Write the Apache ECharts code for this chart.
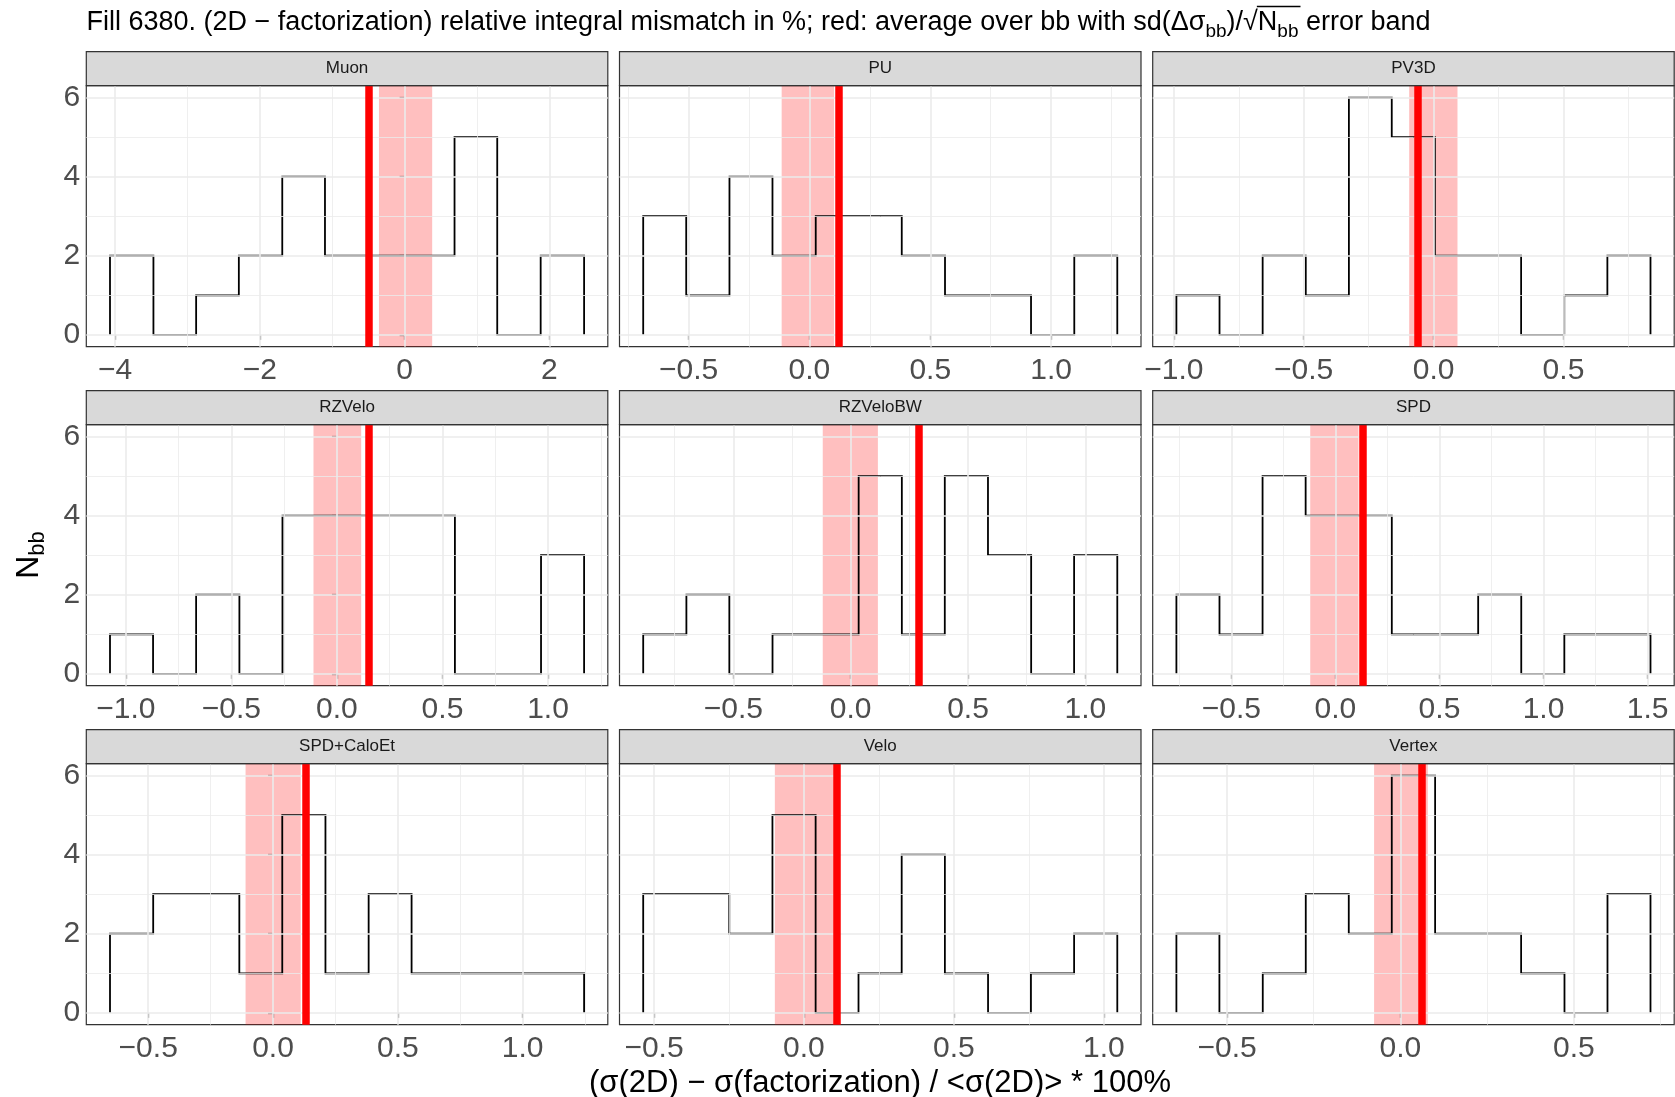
<!DOCTYPE html>
<html><head><meta charset="utf-8">
<script src="https://cdn.jsdelivr.net/npm/echarts@6/dist/echarts.min.js"></script>
<style>html,body{margin:0;padding:0;background:#fff}#c{width:1675px;height:1097px}</style>
</head><body><div id="c"></div>
<script>
// ---------------- data ----------------
const facets = ['Muon','PU','PV3D','RZVelo','RZVeloBW','SPD','SPD+CaloEt','Velo','Vertex'];

const edges_Muon = [-4.07,-3.47,-2.88,-2.29,-1.69,-1.10,-0.50,0.09,0.69,1.28,1.88,2.48];
const counts_Muon = [2,0,1,2,4,2,2,2,5,0,2];
const edges_PU = [-0.688,-0.510,-0.331,-0.153,0.026,0.204,0.382,0.561,0.739,0.917,1.096,1.274];
const counts_PU = [3,1,4,2,3,3,2,1,1,0,2];
const edges_PV3D = [-0.990,-0.824,-0.658,-0.492,-0.326,-0.161,0.005,0.171,0.337,0.503,0.669,0.835];
const counts_PV3D = [1,0,2,1,6,5,2,2,0,1,2];
const edges_RZVelo = [-1.075,-0.871,-0.667,-0.462,-0.258,-0.054,0.150,0.354,0.559,0.763,0.967,1.171];
const counts_RZVelo = [1,0,2,0,4,4,4,4,0,0,3];
const edges_RZVeloBW = [-0.884,-0.700,-0.517,-0.333,-0.150,0.034,0.218,0.401,0.585,0.769,0.952,1.136];
const counts_RZVeloBW = [1,2,0,1,1,5,1,5,3,0,3];
const edges_SPD = [-0.764,-0.557,-0.350,-0.143,0.064,0.271,0.479,0.686,0.893,1.100,1.307,1.514];
const counts_SPD = [2,1,5,4,4,1,1,2,0,1,1];
const edges_SPDCaloEt = [-0.653,-0.480,-0.308,-0.135,0.037,0.210,0.383,0.555,0.728,0.901,1.073,1.246];
const counts_SPDCaloEt = [2,3,3,1,5,1,3,1,1,1,1];
const edges_Velo = [-0.536,-0.392,-0.249,-0.105,0.039,0.182,0.326,0.470,0.614,0.757,0.901,1.045];
const counts_Velo = [3,3,2,5,0,1,4,1,0,1,2];
const edges_Vertex = [-0.646,-0.522,-0.397,-0.273,-0.149,-0.025,0.100,0.224,0.348,0.473,0.597,0.721];
const counts_Vertex = [2,0,1,3,2,6,2,2,1,0,3];

const meanValues = [-0.50, 0.118, -0.056, 0.146, 0.293, 0.131, 0.131, 0.113, 0.055];
const bandLow  = [-0.354, -0.115, -0.094, -0.111, -0.119, -0.121, -0.110, -0.097, -0.076];
const bandHigh = [ 0.381,  0.102,  0.092,  0.115,  0.116,  0.111,  0.111,  0.100,  0.079];

const xTicks_Muon = [-4,-2,0,2];
const xTicks_PU = [-0.5,0,0.5,1.0];
const xTicks_PV3D = [-1.0,-0.5,0,0.5];
const xTicks_RZVelo = [-1.0,-0.5,0,0.5,1.0];
const xTicks_RZVeloBW = [-0.5,0,0.5,1.0];
const xTicks_SPD = [-0.5,0,0.5,1.0,1.5];
const xTicks_SPDCaloEt = [-0.5,0,0.5,1.0];
const xTicks_Velo = [-0.5,0,0.5,1.0];
const xTicks_Vertex = [-0.5,0,0.5];
const yTicks = [0,2,4,6];

const titleMain1 = 'Fill 6380. (2D \u2212 factorization) relative integral mismatch in %; red: average over bb with sd(\u0394\u03c3';
const titleSub = 'bb';
const titleMain2 = ')/\u221a';
const titleN = 'N';
const titleMain3 = ' error band';
const xTitle = '(\u03c3(2D) \u2212 \u03c3(factorization) / <\u03c3(2D)> * 100%';

// ---------------- build ----------------
const allEdges = [edges_Muon,edges_PU,edges_PV3D,edges_RZVelo,edges_RZVeloBW,edges_SPD,edges_SPDCaloEt,edges_Velo,edges_Vertex];
const allCounts = [counts_Muon,counts_PU,counts_PV3D,counts_RZVelo,counts_RZVeloBW,counts_SPD,counts_SPDCaloEt,counts_Velo,counts_Vertex];
const allTicks = [xTicks_Muon,xTicks_PU,xTicks_PV3D,xTicks_RZVelo,xTicks_RZVeloBW,xTicks_SPD,xTicks_SPDCaloEt,xTicks_Velo,xTicks_Vertex];

const FONT = '"Liberation Sans", Arial, Helvetica, sans-serif';
const L0 = 86.3, PW = 521.5, GX = 11.7, T0 = 85.7, PH = 261, ROWP = 339, STRIP = 34;
const TICKFS = 30;

const yMaxCount = Math.max(...allCounts.map(c => Math.max(...c)));
const yMin = -0.05 * yMaxCount, yMax = yMaxCount * 1.05;

function fmt(v, dec) {
  let s = dec === 0 ? String(Math.round(v)) : v.toFixed(1);
  if (s.startsWith('-')) s = '\u2212' + s.slice(1);
  return s;
}

const grids = [], xAxes = [], yAxes = [], series = [], graphics = [];
facets.forEach((name, i) => {
  const col = i % 3, row = Math.floor(i / 3);
  const left = L0 + col * (PW + GX), top = T0 + row * ROWP;
  const e = allEdges[i], c = allCounts[i], ticks = allTicks[i];
  const span = e[e.length - 1] - e[0];
  const xmin = e[0] - 0.05 * span, xmax = e[e.length - 1] + 0.05 * span;
  const step = ticks[1] - ticks[0];
  const dec = Number.isInteger(step) ? 0 : 1;
  const minors = [];
  for (let k = -1; k < ticks.length; k++) {
    const m = (k < 0 ? ticks[0] - step / 2 : ticks[k] + step / 2);
    if (m > xmin && m < xmax) minors.push(m);
  }
  const yMinors = [];
  for (let k = 0; k < yTicks.length - 1; k++) yMinors.push((yTicks[k] + yTicks[k + 1]) / 2);

  grids.push({ left: left, top: top, width: PW, height: PH, show: true,
    borderColor: '#333333', borderWidth: 1.2, backgroundColor: '#ffffff', containLabel: false });
  xAxes.push({ gridIndex: i, type: 'value', min: xmin, max: xmax,
    axisLine: { show: false },
    axisTick: { show: true, customValues: ticks, length: 5, lineStyle: { color: '#333333', width: 1.2 } },
    axisLabel: { show: true, customValues: ticks, formatter: v => fmt(v, dec), fontSize: TICKFS,
      color: '#4D4D4D', fontFamily: FONT, margin: 9, hideOverlap: false },
    splitLine: { show: false }, minorSplitLine: { show: false } });
  yAxes.push({ gridIndex: i, type: 'value', min: yMin, max: yMax,
    axisLine: { show: false },
    axisTick: { show: col === 0, customValues: yTicks, length: 5, lineStyle: { color: '#333333', width: 1.2 } },
    axisLabel: { show: col === 0, customValues: yTicks, fontSize: TICKFS, color: '#4D4D4D',
      fontFamily: FONT, margin: 6 },
    splitLine: { show: false } });

  const gl = [];
  ticks.forEach(v => gl.push({ xAxis: v, lineStyle: { width: 1.6 } }));
  minors.forEach(v => gl.push({ xAxis: v, lineStyle: { width: 0.8 } }));
  yTicks.forEach(v => gl.push({ yAxis: v, lineStyle: { width: 1.6 } }));
  yMinors.forEach(v => gl.push({ yAxis: v, lineStyle: { width: 0.8 } }));
  series.push({ type: 'line', xAxisIndex: i, yAxisIndex: i, data: [], z: 1, silent: true,
    markLine: { silent: true, animation: false, symbol: ['none', 'none'], label: { show: false },
      lineStyle: { color: '#EBEBEB', type: 'solid' }, emphasis: { disabled: true }, data: gl } });

  const pts = [[e[0], 0]];
  for (let k = 0; k < c.length; k++) { pts.push([e[k], c[k]]); pts.push([e[k + 1], c[k]]); }
  pts.push([e[e.length - 1], 0]);
  series.push({ type: 'line', name: name, xAxisIndex: i, yAxisIndex: i, data: pts, z: 3,
    showSymbol: false, symbol: 'none', silent: true,
    lineStyle: { color: '#000000', width: 1.8, join: 'miter' }, emphasis: { disabled: true } });

  series.push({ type: 'line', xAxisIndex: i, yAxisIndex: i, data: [], z: 4, silent: true,
    markArea: { silent: true, animation: false, itemStyle: { color: 'rgba(255,0,0,0.25)' },
      emphasis: { disabled: true }, data: [[{ xAxis: bandLow[i] }, { xAxis: bandHigh[i] }]] } });

  series.push({ type: 'line', xAxisIndex: i, yAxisIndex: i, data: [], z: 5, silent: true,
    markLine: { silent: true, animation: false, symbol: ['none', 'none'], label: { show: false },
      lineStyle: { color: '#FF0000', width: 7.5, type: 'solid' }, emphasis: { disabled: true },
      data: [{ xAxis: meanValues[i] }] } });

  graphics.push({ type: 'rect', shape: { x: left, y: top - STRIP, width: PW, height: STRIP },
    style: { fill: '#D9D9D9', stroke: '#333333', lineWidth: 1.2 }, z: 10 });
  graphics.push({ type: 'text', x: left + PW / 2, y: top - STRIP / 2,
    style: { text: name, fill: '#1A1A1A', font: '17px ' + FONT, align: 'center', verticalAlign: 'middle' }, z: 11 });
});

// Title
const TFS = 27, TSFS = 19;
const TX = 86.5, TY = 23;
graphics.push({ type: 'text', x: TX, y: TY, z: 11,
  style: { text: '{m|' + titleMain1 + '}{s|' + titleSub + '}{m|' + titleMain2 + titleN + '}{s|' + titleSub + '}{m|' + titleMain3 + '}',
    align: 'left', verticalAlign: 'middle',
    rich: { m: { font: TFS + 'px ' + FONT, fill: '#000', lineHeight: 36, verticalAlign: 'middle' },
            s: { font: TSFS + 'px ' + FONT, fill: '#000', lineHeight: 19, verticalAlign: 'bottom' } } } });
// overline of the square root
const cv = document.createElement('canvas').getContext('2d');
cv.font = TFS + 'px ' + FONT;
const wM1 = cv.measureText(titleMain1).width;
const wRoot = cv.measureText(')/\u221a').width;
const wN = cv.measureText(titleN).width;
cv.font = TSFS + 'px ' + FONT;
const wS = cv.measureText(titleSub).width;
const ox0 = TX + wM1 + wS + wRoot - 1;
const ox1 = ox0 + wN + wS + 3;
graphics.push({ type: 'line', z: 11, shape: { x1: ox0, y1: TY - 16.5, x2: ox1, y2: TY - 16.5 },
  style: { stroke: '#000', lineWidth: 1.4 } });

// y-axis title
graphics.push({ type: 'text', x: 29, y: 555, rotation: Math.PI / 2, z: 11,
  style: { text: '{m|N}{s|bb}', align: 'center', verticalAlign: 'middle',
    rich: { m: { font: '32px ' + FONT, fill: '#000', lineHeight: 40, verticalAlign: 'middle' },
            s: { font: '22px ' + FONT, fill: '#000', lineHeight: 22, verticalAlign: 'bottom' } } } });
// x-axis title
graphics.push({ type: 'text', x: 880, y: 1083, z: 11,
  style: { text: xTitle, font: '31px ' + FONT, fill: '#000', align: 'center', verticalAlign: 'middle' } });

const chart = echarts.init(document.getElementById('c'), null, { renderer: 'canvas', width: 1675, height: 1097 });
chart.setOption({
  animation: false,
  backgroundColor: '#ffffff',
  grid: grids, xAxis: xAxes, yAxis: yAxes, series: series, graphic: graphics
});
</script>
</body></html>
